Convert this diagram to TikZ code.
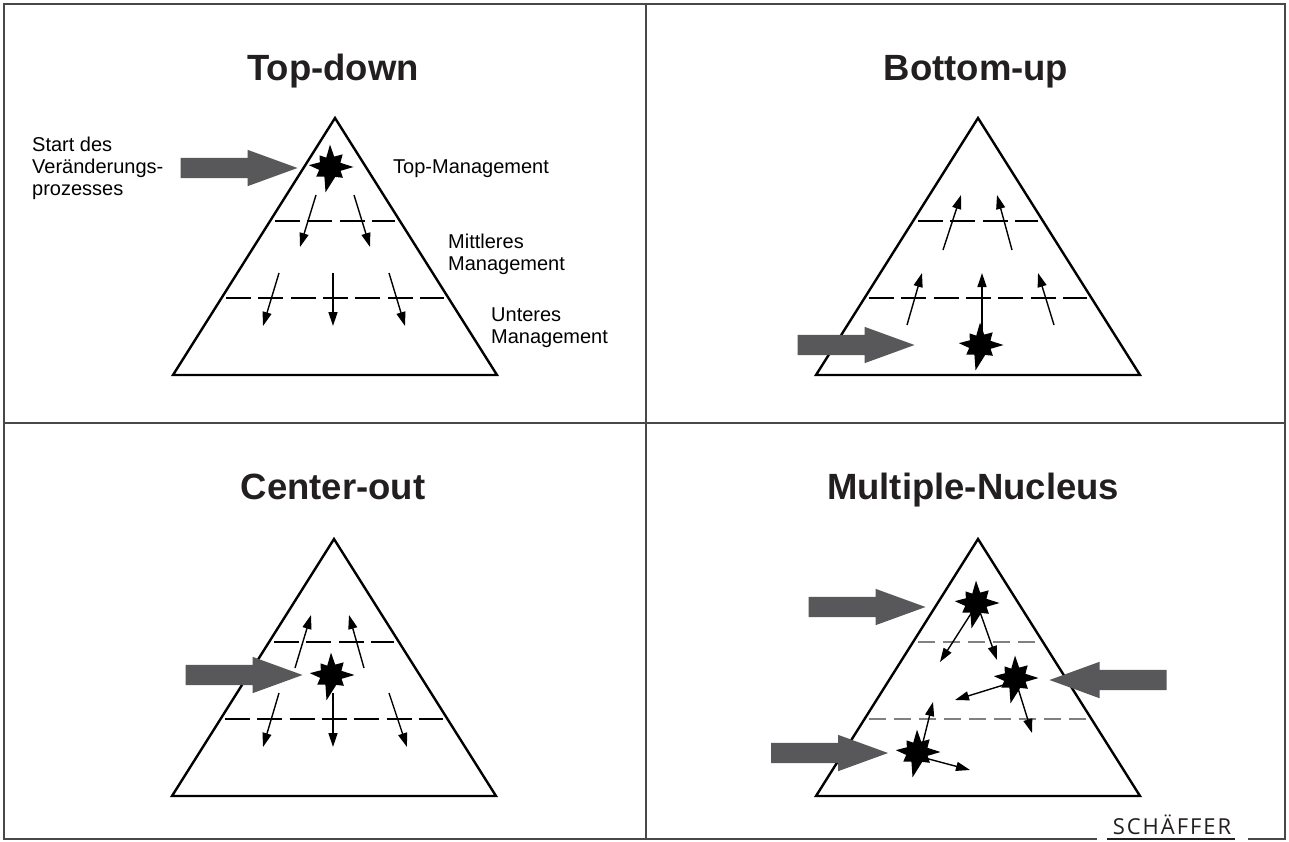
\documentclass[tikz,border=0pt]{standalone}
\usepackage{fontspec}
\setmainfont{Liberation Sans}
\newfontfamily\logofont[LetterSpace=9]{Open Sans}
\usetikzlibrary{arrows.meta,shapes.arrows}
\definecolor{inkgray}{RGB}{88,88,91}
\definecolor{rulegray}{RGB}{72,72,72}
\definecolor{titleblack}{RGB}{35,31,32}
\tikzset{
  frame/.style={line width=2pt,draw=rulegray},
  pyr/.style={line width=2.4pt},
  layer/.style={line width=2.4pt,dash pattern=on 25pt off 7.3pt},
  thinlayer/.style={line width=1.3pt,draw=gray,dash pattern=on 17pt off 8pt},
  flow/.style={-{Triangle[length=14pt,width=9pt]},line width=1.4pt},
  push/.style={single arrow,fill=inkgray,inner sep=0pt,outer sep=0pt,
               minimum height=117pt,single arrow head extend=8pt,
               single arrow tip angle=40,
               execute at begin node={\rule{0pt}{20pt}}},
  title/.style={font=\fontsize{36.5}{40}\selectfont\bfseries,text=titleblack,
                anchor=base,inner sep=0pt},
  lbl/.style={font=\fontsize{20}{22}\selectfont,anchor=base west,
              inner sep=0pt,align=left},
  % the little explosion that marks where change starts
  pics/burst/.style={code={
    \fill[scale=1.12] (0:21) -- (20:10) -- (40:15) -- (62:10) -- (100:23)
      -- (120:10) -- (145:15) -- (165:10) -- (185:19) -- (205:10) -- (228:14)
      -- (248:9) -- (270:20) -- (292:10) -- (315:16) -- (338:10) -- cycle;
  }},
  % pyramid with its two management levels
  pics/pyramid/.style={code={
    \draw[pyr] (0,0) -- (-162,257) -- (162,257) -- cycle;
    \draw[#1] (-60,103) -- (60,103);
    \draw[#1] (-109,180) -- (109,180);
  }},
}

\begin{document}
\begin{tikzpicture}[x=1pt,y=-1pt]
  \useasboundingbox (0,0) rectangle (1289,841);
  \fill[white] (0,0) rectangle (1289,841);

  % frame and quadrants
  \draw[frame] (1097,839) -- (4,839) -- (4,4) -- (1285,4) -- (1285,839) -- (1248,839);
  \draw[frame] (646,4) -- (646,839);
  \draw[frame] (4,423) -- (1285,423);

  % Top-down
  \node[title] (ttd) at (333,80) {Top-down};
  \pic at (335,118) {pyramid=layer};
  \node[push] (itd) at (225,168) {};
  \pic at (330,167) {burst};
  \draw[flow] (316,195) -- (300,247);
  \draw[flow] (354,195) -- (370,247);
  \draw[flow] (279,273) -- (263,326);
  \draw[flow] (333,273) -- (333,326);
  \draw[flow] (389,273) -- (405,326);
  \node[lbl] (start) at (32,195) {Start des\\Veränderungs-\\prozesses};
  \node[lbl] (top) at (393,173) {Top-Management};
  \node[lbl] (mid) at (448,270) {Mittleres\\Management};
  \node[lbl] (low) at (491,343) {Unteres\\Management};

  % Bottom-up
  \node[title] (tbu) at (976,80) {Bottom-up};
  \pic at (978,118) {pyramid=layer};
  \draw[flow] (943,250) -- (961,195);
  \draw[flow] (1012,250) -- (997,195);
  \draw[flow] (907,325) -- (922,273);
  \draw[flow] (982,343) -- (982,273);
  \draw[flow] (1054,325) -- (1038,273);
  \pic at (980,345) {burst};
  \node[push] (ibu) at (842,345) {};

  % Center-out
  \node[title] (tco) at (333,499) {Center-out};
  \pic at (334,539) {pyramid=layer};
  \draw[flow] (295,668) -- (311,615);
  \draw[flow] (364,668) -- (349,615);
  \draw[flow] (279,693) -- (263,747);
  \draw[flow] (333,693) -- (333,747);
  \draw[flow] (389,693) -- (407,747);
  \pic at (331,675) {burst};
  \node[push] (ico) at (230,675) {};

  % Multiple-Nucleus
  \node[title] (tmn) at (973,499) {Multiple-Nucleus};
  \pic at (978,539) {pyramid=thinlayer};
  \draw[flow] (972,612) -- (940,662);
  \draw[flow] (980,612) -- (997,660);
  \draw[flow] (1010,683) -- (955,700);
  \draw[flow] (1017,685) -- (1032,733);
  \draw[flow] (921,750) -- (933,702);
  \draw[flow] (925,758) -- (970,770);
  \pic at (976,603) {burst};
  \pic at (1015,678) {burst};
  \pic at (917,752) {burst};
  \node[push] (imn1) at (853,607) {};
  \node[push,shape border rotate=180] (imn2) at (1122,680) {};
  \node[push] (imn3) at (815.5,753) {};

  % publisher mark on the bottom rule
  \node[font=\logofont\fontsize{22}{24}\selectfont,text=titleblack,anchor=base,
        inner sep=0pt] (logo) at (1172,834) {SCHÄFFER};
  \draw[line width=2pt,titleblack] (1107,839) -- (1235,839);
\end{tikzpicture}
\end{document}
